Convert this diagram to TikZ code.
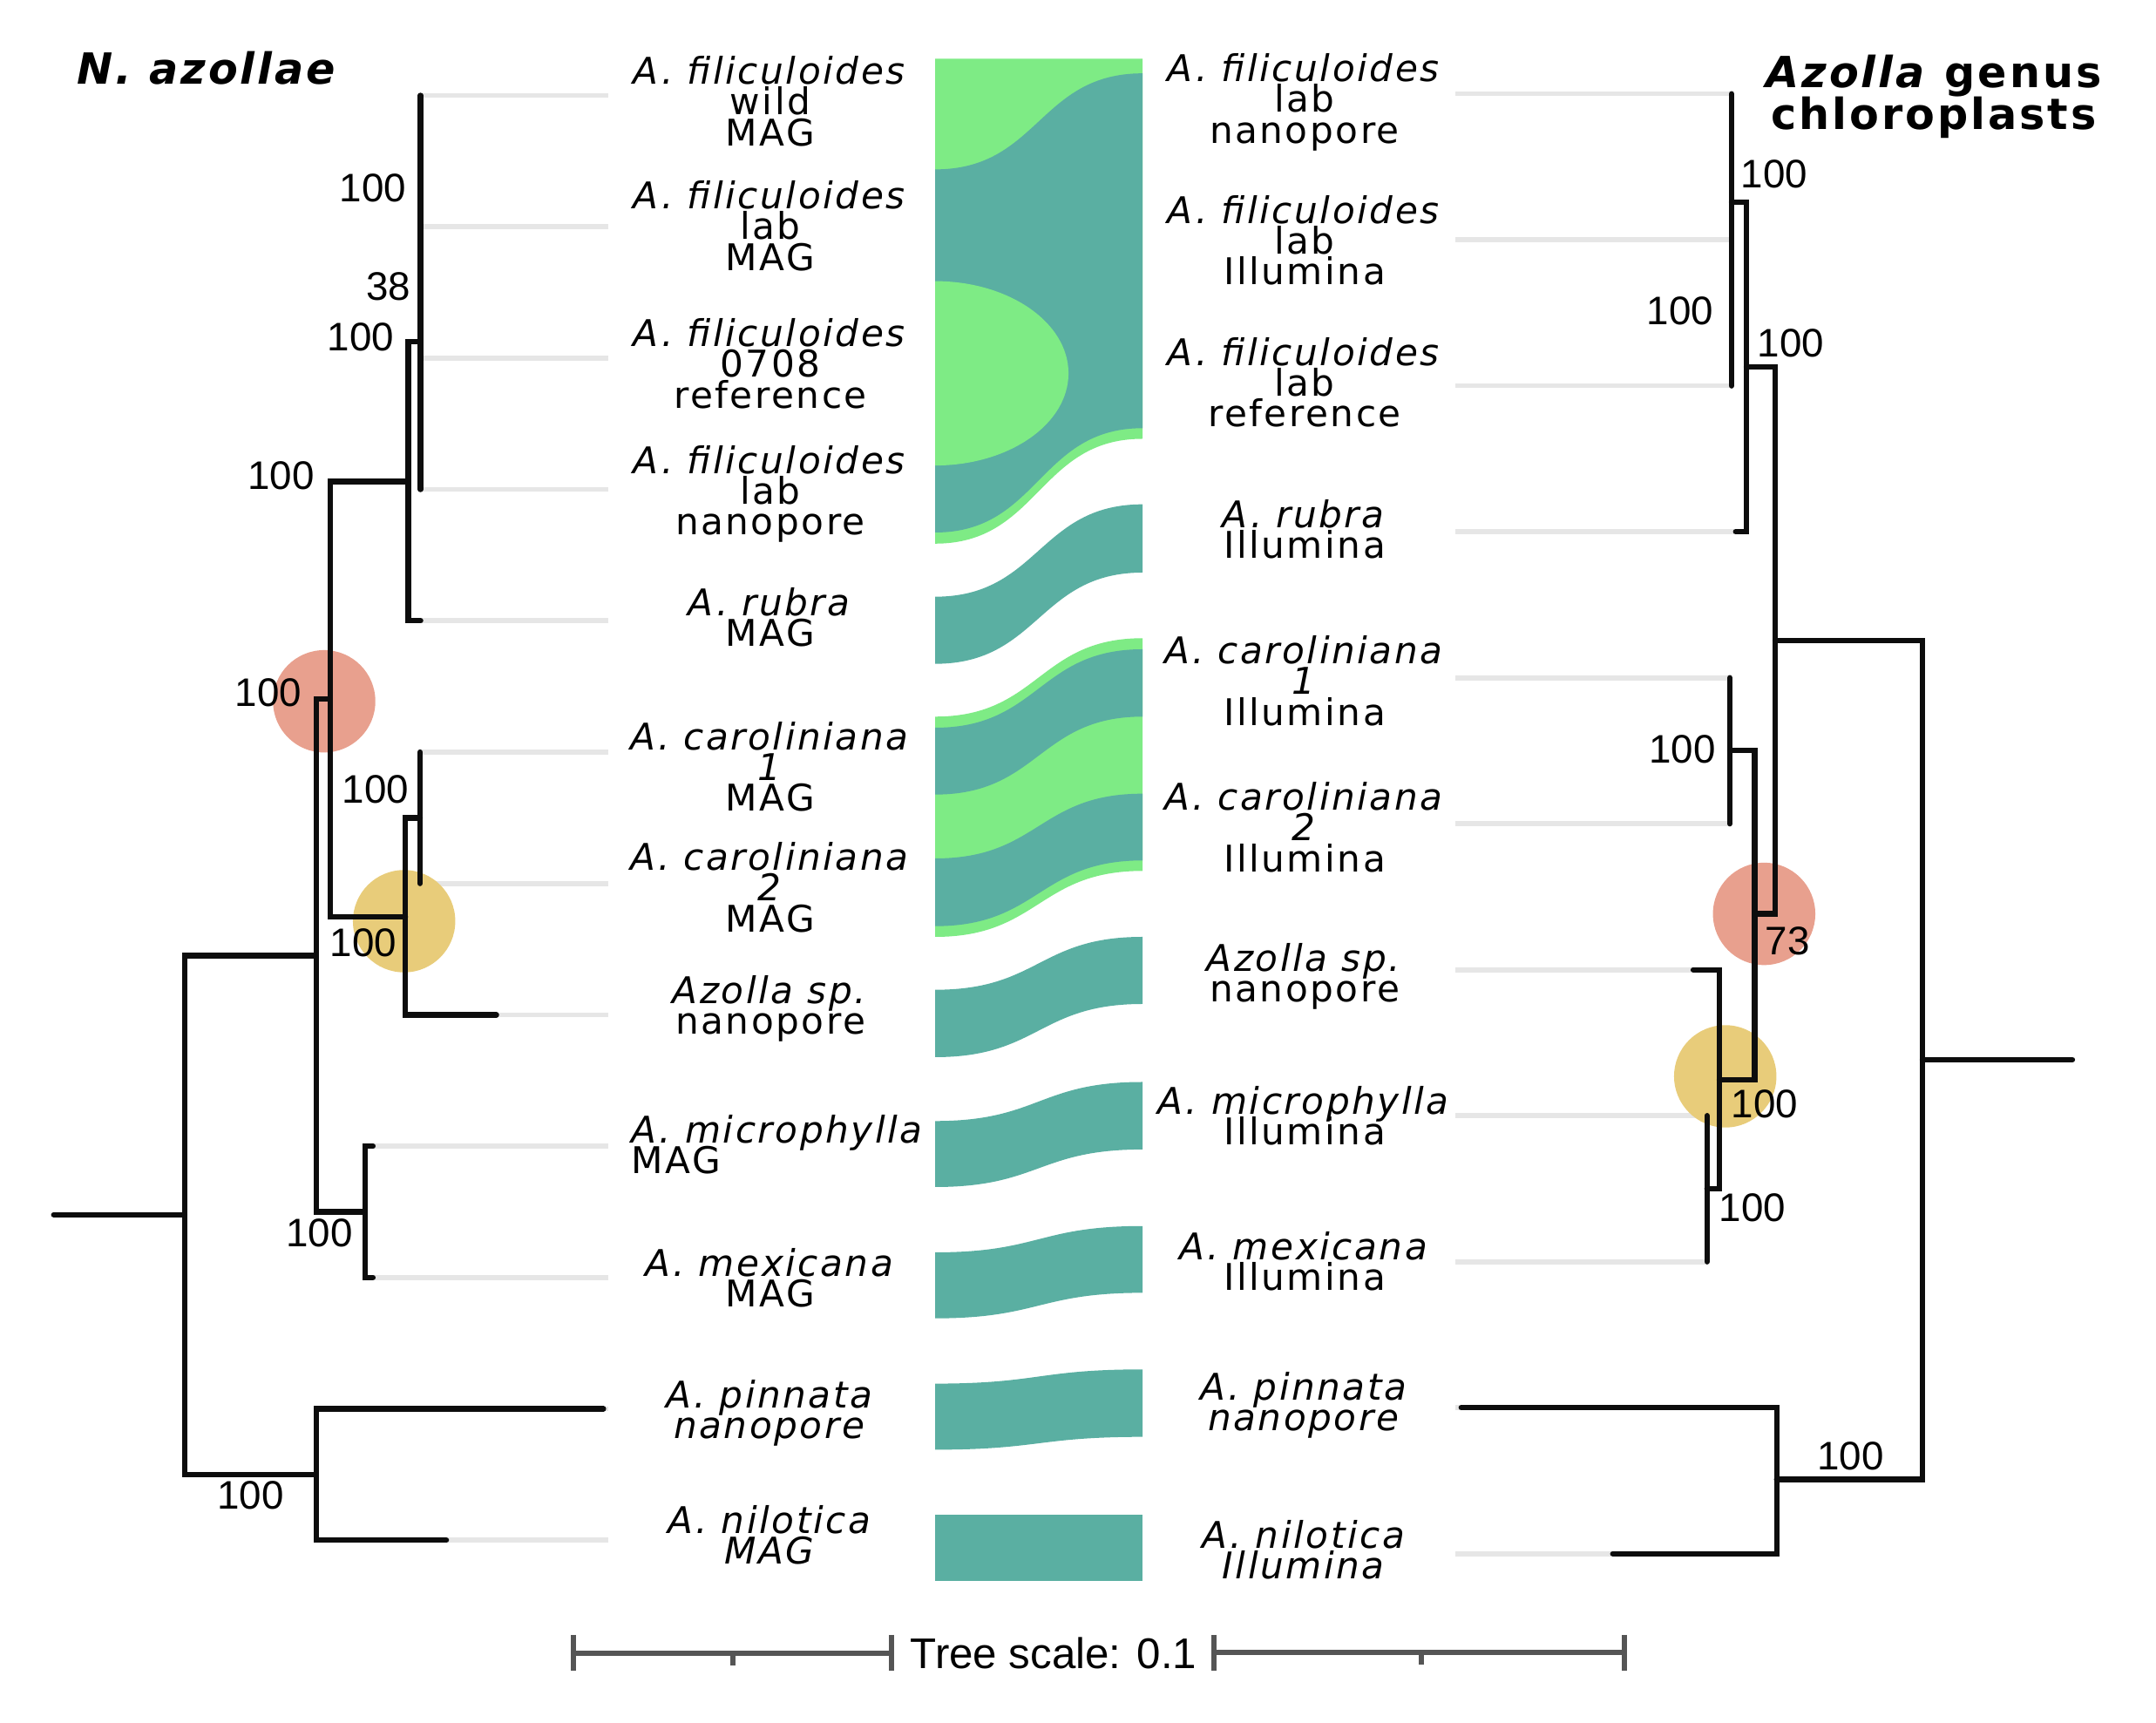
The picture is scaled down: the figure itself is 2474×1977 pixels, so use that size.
\documentclass[tikz,border=0pt]{standalone}
\usepackage{fontspec}
\setmainfont{DejaVu Sans}
\newfontfamily\taxonfont[LetterSpace=6]{DejaVu Sans}
\newfontfamily\bootfont{Liberation Sans}
\newcommand\tightlines{\lineskiplimit-20pt\relax}
\definecolor{flowgreen}{HTML}{7EEB85}
\definecolor{flowteal}{HTML}{5AAFA2}
\definecolor{leadgray}{HTML}{E6E6E6}
\definecolor{treeblack}{HTML}{0D0D0D}
\definecolor{supportred}{HTML}{E8A08E}
\definecolor{supportyellow}{HTML}{E8CC7A}
\definecolor{scalegray}{HTML}{555555}
\begin{document}
\begin{tikzpicture}[x=0.01cm, y=-0.01cm,
    branch/.style={draw=treeblack, line width=1.8pt, line cap=round},
    leader/.style={draw=leadgray, line width=1.6pt},
    taxon/.style={align=center, anchor=north, inner sep=0pt,
        font=\taxonfont\fontsize{12}{10}\selectfont\tightlines},
    boot/.style={inner sep=0pt, font=\bootfont\fontsize{13}{13}\selectfont},
    support/.style={circle, inner sep=0pt, minimum size=1.174cm},
    scalebar/.style={draw=scalegray, line width=1.7pt}]
\useasboundingbox (0,0) rectangle (2474,1977);

% ribbons between the two trees
\fill[flowgreen] (1073,67.5) -- (1311,67.5) -- (1311,503.5) .. controls (1192,503.5) and (1192,623.8) .. (1073,623.8) -- cycle;
\fill[flowteal] (1073,194.4) .. controls (1192,194.4) and (1192,84.2) .. (1311,84.2) -- (1311,491.3) .. controls (1192,491.3) and (1192,611) .. (1073,611) -- cycle;
\fill[flowgreen] (1073,322.6) arc[start angle=90, end angle=-90, x radius=1.53cm, y radius=1.057cm] -- cycle;
\fill[flowteal] (1073,684.7) .. controls (1192,684.7) and (1192,578.7) .. (1311,578.7) -- (1311,657) .. controls (1192,657) and (1192,761.7) .. (1073,761.7) -- cycle;
\fill[flowgreen] (1073,822.3) .. controls (1192,822.3) and (1192,732.3) .. (1311,732.3) -- (1311,999.3) .. controls (1192,999.3) and (1192,1075) .. (1073,1075) -- cycle;
\fill[flowteal] (1073,835) .. controls (1192,835) and (1192,745) .. (1311,745) -- (1311,822.3) .. controls (1192,822.3) and (1192,911.7) .. (1073,911.7) -- cycle;
\fill[flowteal] (1073,985) .. controls (1192,985) and (1192,910.7) .. (1311,910.7) -- (1311,987.3) .. controls (1192,987.3) and (1192,1062.7) .. (1073,1062.7) -- cycle;
\fill[flowteal] (1073,1135.7) .. controls (1192,1135.7) and (1192,1075) .. (1311,1075) -- (1311,1152) .. controls (1192,1152) and (1192,1213) .. (1073,1213) -- cycle;
\fill[flowteal] (1073,1286.3) .. controls (1192,1286.3) and (1192,1241.5) .. (1311,1241.5) -- (1311,1318.9) .. controls (1192,1318.9) and (1192,1362) .. (1073,1362) -- cycle;
\fill[flowteal] (1073,1437) .. controls (1192,1437) and (1192,1406.8) .. (1311,1406.8) -- (1311,1483.4) .. controls (1192,1483.4) and (1192,1512.7) .. (1073,1512.7) -- cycle;
\fill[flowteal] (1073,1587.6) .. controls (1192,1587.6) and (1192,1571.3) .. (1311,1571.3) -- (1311,1648.7) .. controls (1192,1648.7) and (1192,1663.4) .. (1073,1663.4) -- cycle;
\fill[flowteal] (1073,1738.3) rectangle (1311,1814);

% left tree: N. azollae
\coordinate (Lstem) at (61.7,1393.8);
\coordinate (LA) at (211.9,1393.8);
\coordinate (LB) at (362.7,1096.6);
\coordinate (LC) at (378.8,801.8);
\coordinate (LD) at (468.6,552.5);
\coordinate (LE) at (482.6,392);
\coordinate (LF) at (465.1,1051.8);
\coordinate (LG) at (482,938.6);
\coordinate (LH) at (418.8,1390.6);
\coordinate (LI) at (362.7,1691.9);
\coordinate (tipL1) at (482.6,109.5);
\coordinate (tipL2) at (482.6,260.2);
\coordinate (tipL3) at (482.6,410.9);
\coordinate (tipL4) at (482.6,561.6);
\coordinate (tipL5) at (482.6,712.3);
\coordinate (tipL6) at (482,863);
\coordinate (tipL7) at (482,1013.7);
\coordinate (tipL8) at (569.6,1164.4);
\coordinate (tipL9) at (427.9,1315.1);
\coordinate (tipL10) at (427.9,1465.8);
\coordinate (tipL11) at (692.4,1616.5);
\coordinate (tipL12) at (512.1,1767.2);
\coordinate (endL1) at (698,109.5);
\coordinate (endL2) at (698,260.2);
\coordinate (endL3) at (698,410.9);
\coordinate (endL4) at (698,561.6);
\coordinate (endL5) at (698,712.3);
\coordinate (endL6) at (698,863);
\coordinate (endL7) at (698,1013.7);
\coordinate (endL8) at (698,1164.4);
\coordinate (endL9) at (698,1315.1);
\coordinate (endL10) at (698,1465.8);
\coordinate (endL11) at (698,1616.5);
\coordinate (endL12) at (698,1767.2);

% right tree: chloroplasts
\coordinate (Rstem) at (2378,1216);
\coordinate (RA) at (2206,1216);
\coordinate (RB) at (2037,734.7);
\coordinate (RC) at (2004,421);
\coordinate (RD) at (1987,232);
\coordinate (RE) at (2013.4,1048.5);
\coordinate (RF) at (1985,861);
\coordinate (RG) at (1973,1239);
\coordinate (RH) at (1958.8,1363.7);
\coordinate (RI) at (2038.7,1697.5);
\coordinate (tipR1) at (1987,107.7);
\coordinate (tipR2) at (1987,275.2);
\coordinate (tipR3) at (1987,442.7);
\coordinate (tipR4) at (1991.7,610.2);
\coordinate (tipR5) at (1985,777.7);
\coordinate (tipR6) at (1985,945.2);
\coordinate (tipR7) at (1943,1112.7);
\coordinate (tipR8) at (1958.8,1280.2);
\coordinate (tipR9) at (1958.8,1447.7);
\coordinate (tipR10) at (1676.8,1615.2);
\coordinate (tipR11) at (1850.7,1782.7);
\coordinate (endR1) at (1670,107.7);
\coordinate (endR2) at (1670,275.2);
\coordinate (endR3) at (1670,442.7);
\coordinate (endR4) at (1670,610.2);
\coordinate (endR5) at (1670,777.7);
\coordinate (endR6) at (1670,945.2);
\coordinate (endR7) at (1670,1112.7);
\coordinate (endR8) at (1670,1280.2);
\coordinate (endR9) at (1670,1447.7);
\coordinate (endR10) at (1670,1615.2);
\coordinate (endR11) at (1670,1782.7);

% leaders
\draw[leader] (tipL1) -- (endL1);
\draw[leader] (tipL2) -- (endL2);
\draw[leader] (tipL3) -- (endL3);
\draw[leader] (tipL4) -- (endL4);
\draw[leader] (tipL5) -- (endL5);
\draw[leader] (tipL6) -- (endL6);
\draw[leader] (tipL7) -- (endL7);
\draw[leader] (tipL8) -- (endL8);
\draw[leader] (tipL9) -- (endL9);
\draw[leader] (tipL10) -- (endL10);
\draw[leader] (tipL11) -- (endL11);
\draw[leader] (tipL12) -- (endL12);
\draw[leader] (endR1) -- (tipR1);
\draw[leader] (endR2) -- (tipR2);
\draw[leader] (endR3) -- (tipR3);
\draw[leader] (endR4) -- (tipR4);
\draw[leader] (endR5) -- (tipR5);
\draw[leader] (endR6) -- (tipR6);
\draw[leader] (endR7) -- (tipR7);
\draw[leader] (endR8) -- (tipR8);
\draw[leader] (endR9) -- (tipR9);
\draw[leader] (endR10) -- (tipR10);
\draw[leader] (endR11) -- (tipR11);

% highlighted nodes
\node[support, fill=supportred] (hlLred) at (372,804.7) {};
\node[support, fill=supportyellow] (hlLyellow) at (463.7,1057) {};
\node[support, fill=supportred] (hlRred) at (2024.3,1048.6) {};
\node[support, fill=supportyellow] (hlRyellow) at (1979.7,1235) {};

% branches
\draw[branch] (Lstem) -- (LA);
\draw[branch] (LA) |- (LB);
\draw[branch] (LA) |- (LI);
\draw[branch] (LB) |- (LC);
\draw[branch] (LB) |- (LH);
\draw[branch] (LC) |- (LD);
\draw[branch] (LC) |- (LF);
\draw[branch] (LD) |- (LE);
\draw[branch] (LD) |- (tipL5);
\draw[branch] (LE) |- (tipL1);
\draw[branch] (LE) |- (tipL2);
\draw[branch] (LE) |- (tipL3);
\draw[branch] (LE) |- (tipL4);
\draw[branch] (LF) |- (LG);
\draw[branch] (LF) |- (tipL8);
\draw[branch] (LG) |- (tipL6);
\draw[branch] (LG) |- (tipL7);
\draw[branch] (LH) |- (tipL9);
\draw[branch] (LH) |- (tipL10);
\draw[branch] (LI) |- (tipL11);
\draw[branch] (LI) |- (tipL12);
\draw[branch] (Rstem) -- (RA);
\draw[branch] (RA) |- (RB);
\draw[branch] (RA) |- (RI);
\draw[branch] (RB) |- (RC);
\draw[branch] (RB) |- (RE);
\draw[branch] (RC) |- (RD);
\draw[branch] (RC) |- (tipR4);
\draw[branch] (RD) |- (tipR1);
\draw[branch] (RD) |- (tipR2);
\draw[branch] (RD) |- (tipR3);
\draw[branch] (RE) |- (RF);
\draw[branch] (RE) |- (RG);
\draw[branch] (RF) |- (tipR5);
\draw[branch] (RF) |- (tipR6);
\draw[branch] (RG) |- (tipR7);
\draw[branch] (RG) |- (RH);
\draw[branch] (RH) |- (tipR8);
\draw[branch] (RH) |- (tipR9);
\draw[branch] (RI) |- (tipR10);
\draw[branch] (RI) |- (tipR11);

% support values
\node[boot] (bL1) at (428,215.5) {100};
\node[boot] (bL2) at (445.5,329) {38};
\node[boot] (bL3) at (414,386.5) {100};
\node[boot] (bL4) at (322.6,546) {100};
\node[boot] (bL5) at (308,795) {100};
\node[boot] (bL6) at (431,906) {100};
\node[boot] (bL7) at (417,1081.7) {100};
\node[boot] (bL8) at (366.5,1414.5) {100};
\node[boot] (bL9) at (287.6,1716) {100};
\node[boot] (bR1) at (2036,200) {100};
\node[boot] (bR2) at (1928,357) {100};
\node[boot] (bR3) at (2055,394) {100};
\node[boot] (bR4) at (1930.6,859.6) {100};
\node[boot] (bR5) at (2051,1080) {73};
\node[boot] (bR6) at (2025,1266.6) {100};
\node[boot] (bR7) at (2011,1386) {100};
\node[boot] (bR8) at (2123.5,1671) {100};

% taxa, left
\node[taxon] (tL1) at (884,64) {\textit{A. filiculoides}\\wild\\MAG};
\node[taxon] (tL2) at (884,207) {\textit{A. filiculoides}\\lab\\MAG};
\node[taxon] (tL3) at (884,365) {\textit{A. filiculoides}\\0708\\reference};
\node[taxon] (tL4) at (884,510.5) {\textit{A. filiculoides}\\lab\\nanopore};
\node[taxon] (tL5) at (884,673.5) {\textit{A. rubra}\\MAG};
\node[taxon] (tL6) at (884,827.5) {\textit{A. caroliniana}\\\textit{1}\\MAG};
\node[taxon] (tL7) at (884,966) {\textit{A. caroliniana}\\\textit{2}\\MAG};
\node[taxon] (tL8) at (884,1119) {\textit{Azolla sp.}\\nanopore};
\node[taxon, align=left, anchor=north west] (tL9) at (724,1278.5) {\textit{A. microphylla}\\MAG};
\node[taxon] (tL10) at (884,1432) {\textit{A. mexicana}\\MAG};
\node[taxon] (tL11) at (884,1582.5) {\textit{A. pinnata}\\\textit{nanopore}};
\node[taxon] (tL12) at (884,1726.5) {\textit{A. nilotica}\\\textit{MAG}};

% taxa, right
\node[taxon] (tR1) at (1497,61) {\textit{A. filiculoides}\\lab\\nanopore};
\node[taxon] (tR2) at (1497,223.5) {\textit{A. filiculoides}\\lab\\Illumina};
\node[taxon] (tR3) at (1497,386.5) {\textit{A. filiculoides}\\lab\\reference};
\node[taxon] (tR4) at (1497,573) {\textit{A. rubra}\\Illumina};
\node[taxon] (tR5) at (1497,729) {\textit{A. caroliniana}\\\textit{1}\\Illumina};
\node[taxon] (tR6) at (1497,897) {\textit{A. caroliniana}\\\textit{2}\\Illumina};
\node[taxon] (tR7) at (1497,1081.5) {\textit{Azolla sp.}\\nanopore};
\node[taxon] (tR8) at (1497,1246) {\textit{A. microphylla}\\Illumina};
\node[taxon] (tR9) at (1497,1413) {\textit{A. mexicana}\\Illumina};
\node[taxon] (tR10) at (1497,1574) {\textit{A. pinnata}\\\textit{nanopore}};
\node[taxon] (tR11) at (1497,1743.5) {\textit{A. nilotica}\\\textit{Illumina}};

% titles
\node[anchor=base, inner sep=0pt, font=\taxonfont\bfseries\itshape\fontsize{14}{14}\selectfont] (titleL) at (236.7,97) {N. azollae};
\node[align=center, anchor=north, inner sep=0pt, font=\taxonfont\bfseries\fontsize{14}{13.8}\selectfont\tightlines] (titleR) at (2219,62) {\textit{Azolla} genus\\chloroplasts};

% tree scale
\draw[scalebar] (658,1897) -- (1022.6,1897);
\draw[scalebar] (658,1876) -- (658,1917);
\draw[scalebar] (1022.6,1876) -- (1022.6,1917);
\draw[scalebar] (841,1897) -- (841,1911);
\draw[scalebar] (1393.3,1896) -- (1863.7,1896);
\draw[scalebar] (1393.3,1876) -- (1393.3,1917);
\draw[scalebar] (1863.7,1876) -- (1863.7,1917);
\draw[scalebar] (1631,1896) -- (1631,1910);
\node[anchor=base, inner sep=0pt, font=\bootfont\fontsize{14}{14}\selectfont] (scaletext) at (1209,1915) {Tree scale: 0.1};
\end{tikzpicture}
\end{document}
